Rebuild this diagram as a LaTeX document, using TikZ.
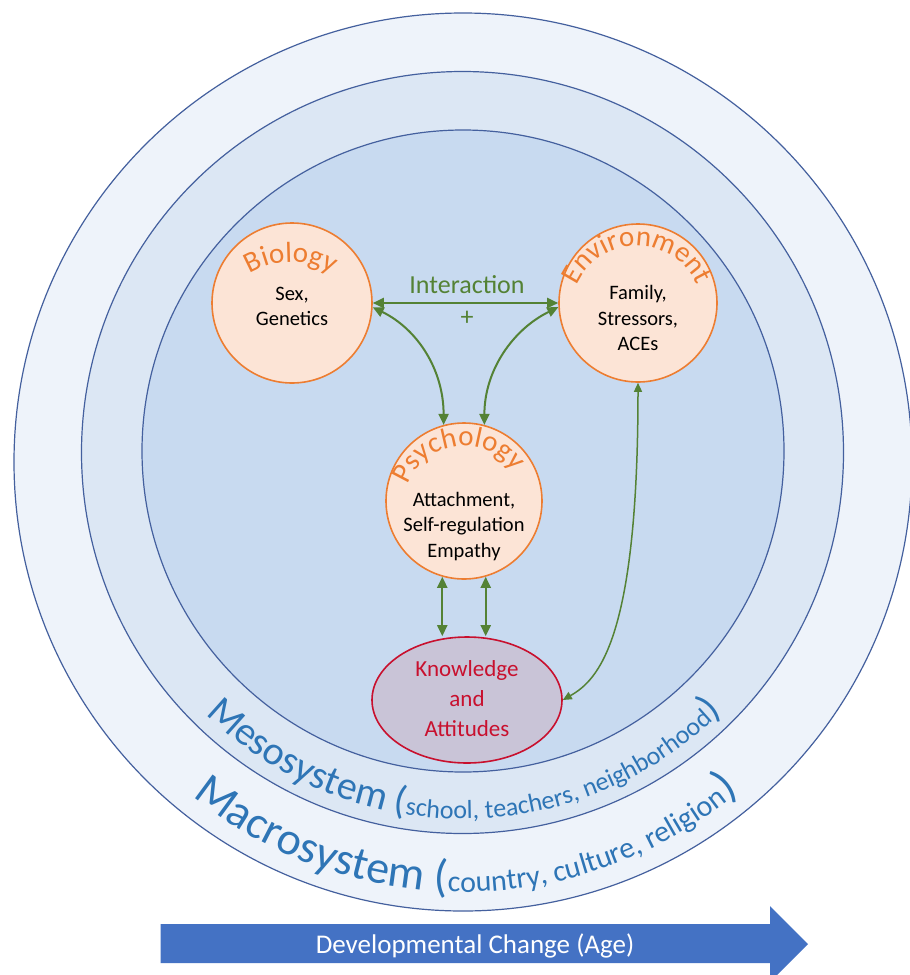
\documentclass[tikz,border=0pt]{standalone}
\usepackage{fontspec}
\setmainfont{Carlito}
\usetikzlibrary{shapes.geometric,arrows.meta,decorations.text}
\definecolor{outerfill}{HTML}{EEF3FA}
\definecolor{midfill}{HTML}{DCE7F4}
\definecolor{innerfill}{HTML}{C8DAF0}
\definecolor{ringline}{HTML}{44609E}
\definecolor{peach}{HTML}{FCE4D6}
\definecolor{orangeline}{HTML}{ED7D31}
\definecolor{knfill}{HTML}{C9C4D7}
\definecolor{knred}{HTML}{C8102E}
\definecolor{grn}{HTML}{548235}
\definecolor{sysblue}{HTML}{2E75B6}
\definecolor{devblue}{HTML}{4472C4}
\newcommand{\mesobig}{\fontsize{40}{40}\selectfont\color{sysblue}}
\newcommand{\mesosmall}{\fontsize{26}{26}\selectfont\color{sysblue}}
\newcommand{\macrobig}{\fontsize{46}{46}\selectfont\color{sysblue}}
\newcommand{\macrosmall}{\fontsize{30}{30}\selectfont\color{sysblue}}
\newcommand{\titlefont}{\fontsize{29}{29}\selectfont\color{orangeline}}
\tikzset{
  ring/.style={draw=ringline, line width=1.2pt},
  factor/.style={circle, draw=orangeline, fill=peach, line width=1.6pt, inner sep=0pt},
  bodytext/.style={align=center, inner sep=0pt, font=\fontsize{20.5}{25.5}\selectfont},
  garrow/.style={draw=grn, line width=2pt, {Triangle[length=11pt,width=10pt]}-{Triangle[length=11pt,width=10pt]}},
  garrowthin/.style={draw=grn, line width=1.5pt, {Triangle[length=9pt,width=8pt]}-{Triangle[length=9pt,width=8pt]}},
}
\begin{document}
\begin{tikzpicture}[x=1pt, y=-1pt]
\useasboundingbox (0,0) rectangle (910,975);
\fill[white] (0,0) rectangle (910,975);
% system rings
\draw[ring, fill=outerfill] (463,462) circle[radius=449];
\draw[ring, fill=midfill] (462.5,452.5) circle[radius=381];
\draw[ring, fill=innerfill] (463,451) circle[radius=321];
% ring labels
\path[decorate, decoration={text along path, text align=left,
  text={|\mesobig|Mesosystem (|\mesosmall|school, teachers, neighborhood|\mesobig|)}}]
  (463,452) ++(134.5:367) arc[start angle=134.5, end angle=20, radius=367];
\path[decorate, decoration={text along path, text align=left,
  text={|\macrobig|Macrosystem (|\macrosmall|country, culture, religion|\macrobig|)}}]
  (463,462) ++(129:430) arc[start angle=129, end angle=20, radius=430];
% factor nodes
\node[factor, minimum size=160pt] (bio) at (292,303) {};
\node[factor, minimum size=158pt] (env) at (638,303) {};
\node[factor, minimum size=156pt] (psy) at (464,501) {};
\node[ellipse, draw=knred, fill=knfill, line width=1.6pt, minimum width=190pt, minimum height=126pt, inner sep=0pt] (kn) at (467,700) {};
% curved titles
\path[decorate, decoration={text along path, text align=center, text={|\titlefont|Biology}}]
  (291,340) ++(225:78) arc[start angle=225, end angle=315, radius=78];
\path[decorate, decoration={text along path, text align=center, text={|\titlefont|Environment}}]
  (637,312) ++(190:66) arc[start angle=190, end angle=350, radius=66];
\path[decorate, decoration={text along path, text align=center, text={|\titlefont|Psychology}}]
  (464,506) ++(190:60) arc[start angle=190, end angle=336, radius=60];
% body texts
\node[bodytext] (biotext) at (292,306.5) {Sex,\\Genetics};
\node[bodytext] (envtext) at (638,318) {Family,\\Stressors,\\ACEs};
\node[bodytext] (psytext) at (464,526.5) {Attachment,\\Self-regulation\\Empathy};
\node[align=center, inner sep=0pt, text=knred, font=\fontsize{23}{30}\selectfont] (kntext) at (467,699) {Knowledge\\and\\Attitudes};
% interaction
\node[anchor=base, inner sep=0pt, text=grn, font=\fontsize{26}{26}\selectfont] (inter) at (467,293) {Interaction};
\node[inner sep=0pt, text=grn, font=\fontsize{26}{26}\selectfont] (plus) at (467,318) {+};
% connectors
\draw[garrow] (bio.east) -- (env.west);
\draw[garrow] (bio.-3) .. controls +(45,22) and +(0,-55) .. (psy.105);
\draw[garrow] (env.183) .. controls +(-45,22) and +(0,-55) .. (psy.75);
\draw[garrow] (psy.254) -- (psy.254 |- kn.north);
\draw[garrow] (psy.286) -- (psy.286 |- kn.north);
\draw[garrowthin] (env.south) .. controls +(0,258) and +(35,-20) .. (kn.east);
% developmental arrow
\fill[devblue] (160.5,924) -- (770,924) -- (770,906) -- (808,944) -- (770,982) -- (770,963) -- (160.5,963) -- cycle;
\node[anchor=base, inner sep=0pt, text=white, font=\fontsize{27}{27}\selectfont] (dev) at (475,953) {Developmental Change (Age)};
\end{tikzpicture}
\end{document}
